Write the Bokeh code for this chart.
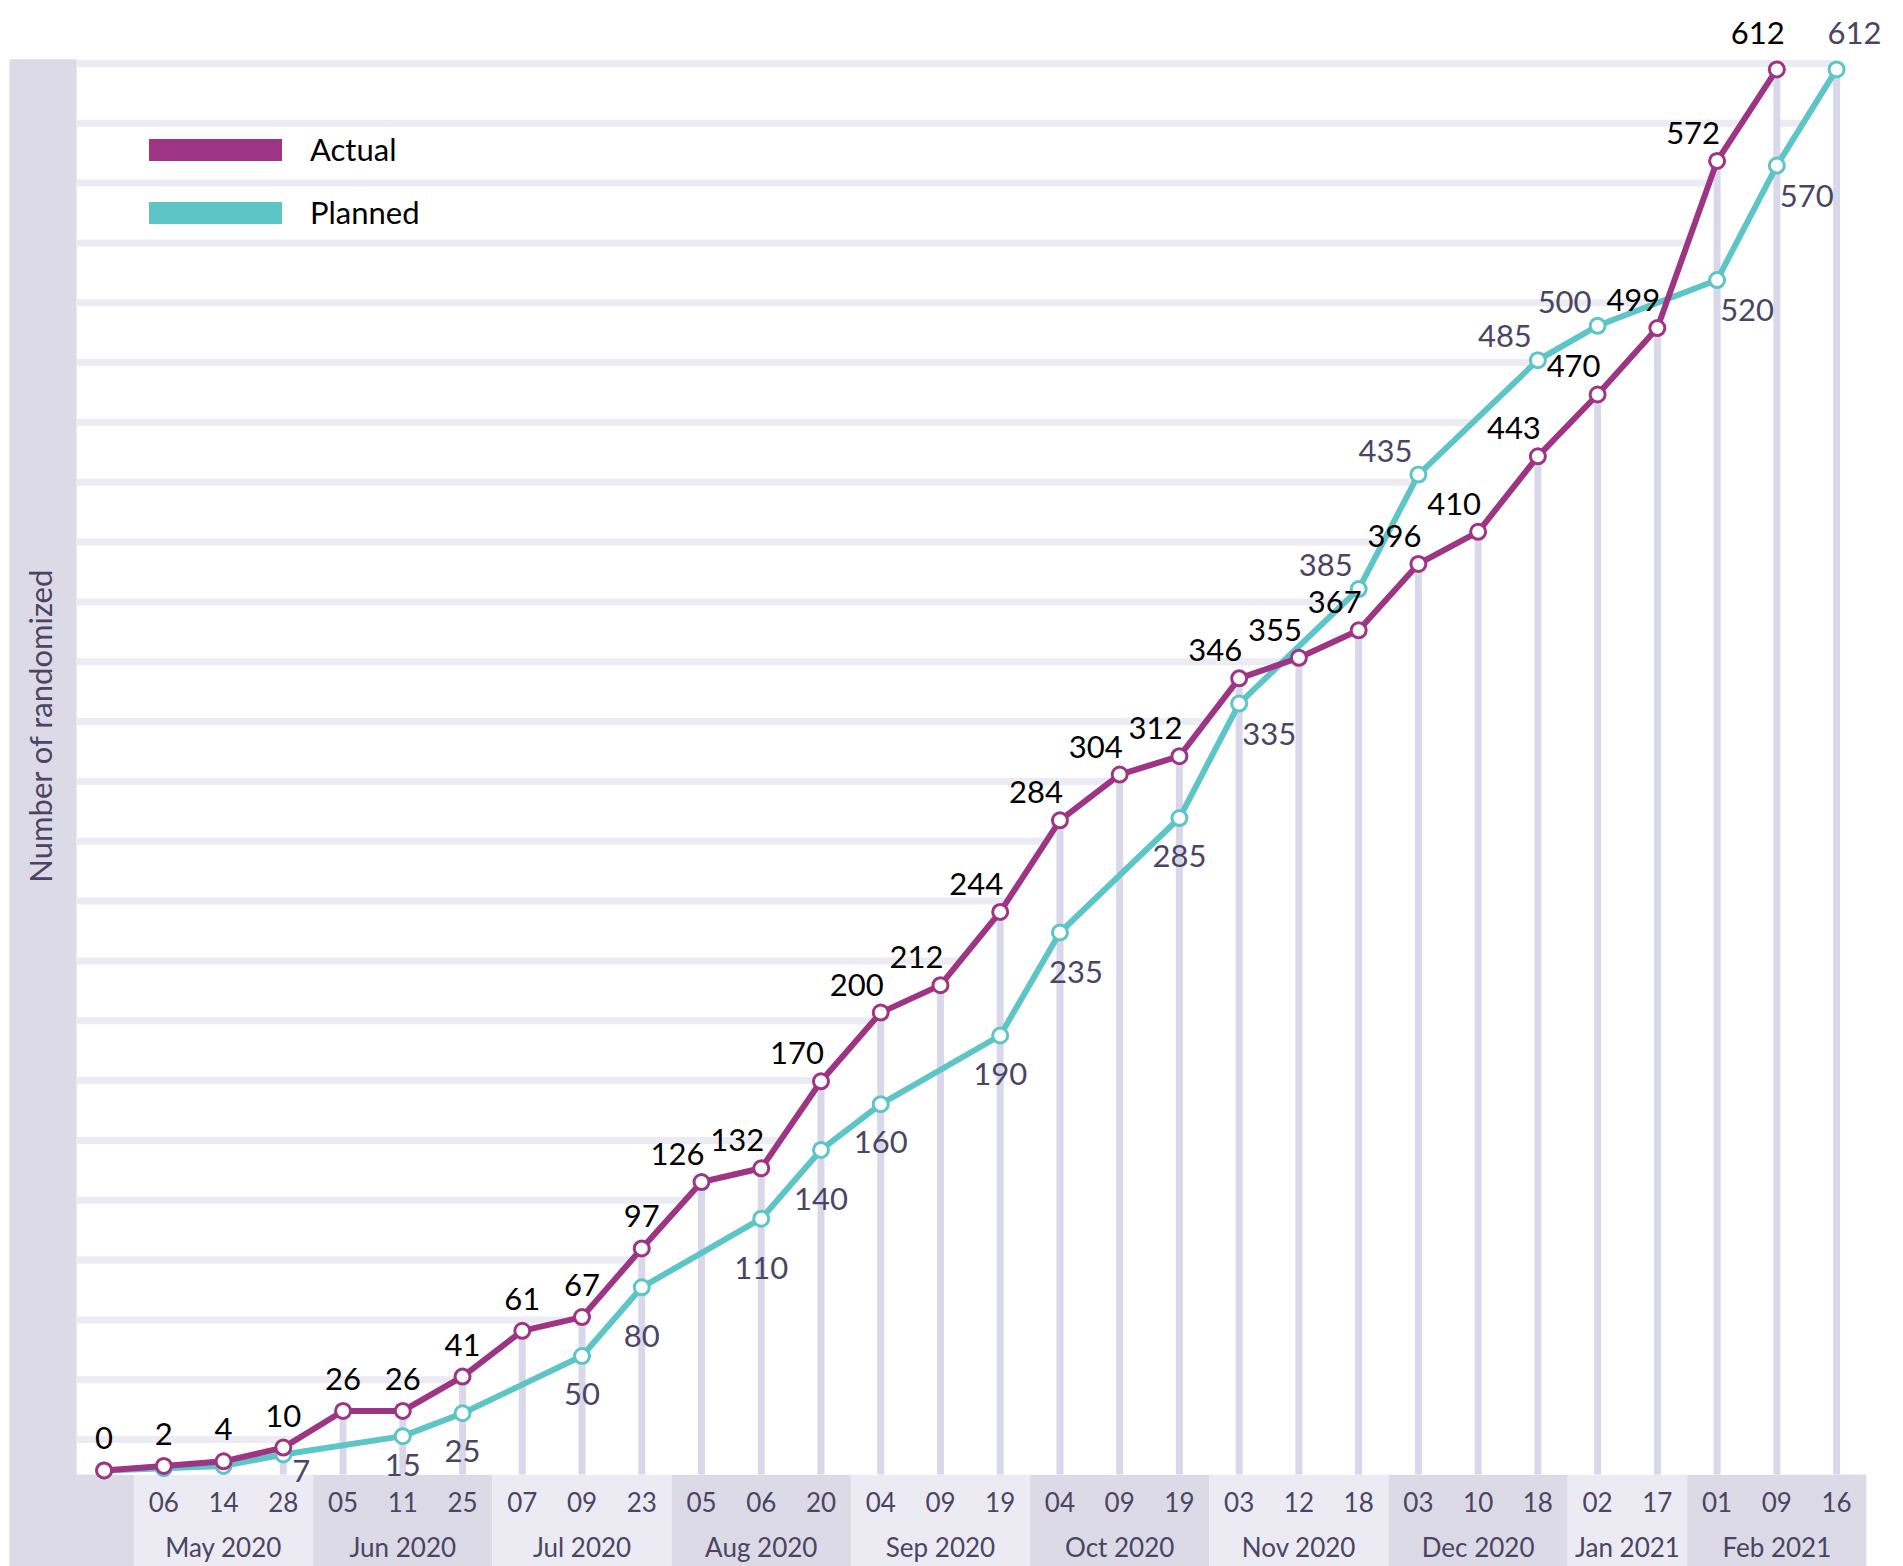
import numpy as np
from bokeh.plotting import figure
from bokeh.models import ColumnDataSource, Legend, LegendItem, Range1d
from bokeh.core.properties import value
from bokeh.embed import file_html
from bokeh.resources import INLINE

# ---------------- data ----------------
months = ["", "May 2020", "May 2020", "May 2020", "Jun 2020", "Jun 2020", "Jun 2020",
          "Jul 2020", "Jul 2020", "Jul 2020", "Aug 2020", "Aug 2020", "Aug 2020",
          "Sep 2020", "Sep 2020", "Sep 2020", "Oct 2020", "Oct 2020", "Oct 2020",
          "Nov 2020", "Nov 2020", "Nov 2020", "Dec 2020", "Dec 2020", "Dec 2020",
          "Jan 2021", "Jan 2021", "Feb 2021", "Feb 2021", "Feb 2021"]
days = ["", "06", "14", "28", "05", "11", "25", "07", "09", "23", "05", "06", "20",
        "04", "09", "19", "04", "09", "19", "03", "12", "18", "03", "10", "18",
        "02", "17", "01", "09", "16"]
actual = [0, 2, 4, 10, 26, 26, 41, 61, 67, 97, 126, 132, 170, 200, 212, 244, 284, 304,
          312, 346, 355, 367, 396, 410, 443, 470, 499, 572, 612, None]
planned = [0, 1, 2, 7, None, 15, 25, None, 50, 80, None, 110, 140, 160, None, 190, 235,
           None, 285, 335, None, 385, 435, None, 485, 500, None, 520, 570, 612]
y_title = "Number of randomized"
series_names = ["Actual", "Planned"]

# label placement (style, kept apart from the data)
actual_label_pos = ["n"] * 10 + ["nw"] * 18 + ["nnw", None]
planned_label_pos = [None, None, None, "ese", None, "s1", "s", None, "s", "S", None, "S", "S",
                     "s", None, "s", "sse", None, "s", "se", None, "NW", "NW", None, "NW",
                     "NW", None, "se", "se", "ne"]
OFF = {"n": (0, -32), "nw": (-24, -28), "nnw": (-19, -36), "NW": (-33, -24),
       "s": (0, 38), "s1": (0, 29), "S": (0, 49), "se": (30, 30), "sse": (16, 40),
       "ese": (18, 17), "ne": (18, -36)}

# ---------------- style / layout ----------------
ACTUAL_C = "#9E3584"
PLANNED_C = "#5EC5C6"
TEXT_GRAY = "#4B4563"
BAR_C = "#D9D7EA"
GRID_C = "#ECEBF3"
BAND_LIGHT = "#ECEBF3"
BAND_DARK = "#DCDAE6"
FONT = "Lato"

W, H = 1900, 1566
X_MIN, X_MAX = -1.734, 30.07
Y_MIN, Y_MAX = -41.94, 642.1
PANEL_TOP = 616.4          # top of the shaded y band
Y_BASE = -1.75             # floor of the plotting area
GRAY_L, GRAY_R = -1.584, -0.46
DAY_Y, MONTH_Y = -13.98, -33.3
TITLE_X, TITLE_Y = -1.07, 325.4
GRID_TOP, GRID_STEP, GRID_N = 614.6, 26.135, 24

n = len(days)
idx = list(range(n))

p = figure(width=W, height=H, output_backend="svg", toolbar_location=None,
           x_range=Range1d(X_MIN, X_MAX), y_range=Range1d(Y_MIN, Y_MAX),
           x_axis_location=None, y_axis_location=None,
           min_border=0, min_border_left=0, min_border_right=0,
           min_border_top=0, min_border_bottom=0)
p.outline_line_color = None
p.grid.visible = False
p.background_fill_color = "white"
p.border_fill_color = "white"

# shaded y band with title
p.quad(left=[GRAY_L], right=[GRAY_R], bottom=[Y_MIN], top=[PANEL_TOP],
       fill_color=BAND_DARK, line_color=None)
p.text(x=[TITLE_X], y=[TITLE_Y], text=[y_title], angle=np.pi / 2, text_align="center",
       text_baseline="middle", text_font=value(FONT), text_font_size="31px",
       text_color=TEXT_GRAY)

# month bands under the plot
groups = []
for i, m in enumerate(months):
    if groups and groups[-1][0] == m:
        groups[-1][2] = i
    else:
        groups.append([m, i, i])
band_src = ColumnDataSource(dict(
    left=[g[1] - 0.5 for g in groups], right=[g[2] + 0.5 for g in groups],
    color=[BAND_DARK if k % 2 == 0 else BAND_LIGHT for k in range(len(groups))],
    mid=[(g[1] + g[2]) / 2 for g in groups], name=[g[0] for g in groups]))
p.quad(left="left", right="right", bottom=Y_MIN, top=Y_BASE, color="color",
       line_color=None, source=band_src)

# horizontal gridlines
gy = [GRID_TOP - k * GRID_STEP for k in range(GRID_N)]
p.segment(x0=[GRAY_R] * GRID_N, x1=[n - 1] * GRID_N, y0=gy, y1=gy,
          line_color=GRID_C, line_width=7)

# white areas beneath the curves
ax_x = [i for i in idx if actual[i] is not None]
ax_y = [actual[i] for i in ax_x]
pl_x = [i for i in idx if planned[i] is not None]
pl_y = [planned[i] for i in pl_x]
p.varea(x=ax_x, y1=Y_BASE, y2=ax_y, fill_color="white")
p.varea(x=pl_x, y1=Y_BASE, y2=pl_y, fill_color="white")

# drop bars
bar_top = [actual[i] if actual[i] is not None else planned[i] for i in idx]
p.segment(x0=idx, x1=idx, y0=[Y_BASE] * n, y1=bar_top, line_color=BAR_C, line_width=7)

# lines + markers
p.line(pl_x, pl_y, line_color=PLANNED_C, line_width=6)
p.scatter(pl_x, pl_y, marker="circle", size=15, fill_color="white",
          line_color=PLANNED_C, line_width=3)
p.line(ax_x, ax_y, line_color=ACTUAL_C, line_width=6)
p.scatter(ax_x, ax_y, marker="circle", size=15, fill_color="white",
          line_color=ACTUAL_C, line_width=3)

# data labels
def label_source(vals, pos):
    xs, ys, ts, dx, dy = [], [], [], [], []
    for i in idx:
        if vals[i] is None or pos[i] is None:
            continue
        ox, oy = OFF[pos[i]]
        xs.append(i); ys.append(vals[i]); ts.append(str(vals[i]))
        dx.append(ox); dy.append(oy)
    return ColumnDataSource(dict(x=xs, y=ys, t=ts, dx=dx, dy=dy))

for vals, pos, col in [(planned, planned_label_pos, TEXT_GRAY),
                       (actual, actual_label_pos, "#000000")]:
    p.text(x="x", y="y", text="t", x_offset="dx", y_offset="dy",
           source=label_source(vals, pos), text_align="center", text_baseline="middle",
           text_font=value(FONT), text_font_size="31px", text_color=col)

# axis texts (days and months)
p.text(x=idx, y=[DAY_Y] * n, text=days, text_align="center", text_baseline="middle",
       text_font=value(FONT), text_font_size="26px", text_color=TEXT_GRAY)
p.text(x="mid", y=MONTH_Y, text="name", source=band_src, text_align="center",
       text_baseline="middle", text_font=value(FONT), text_font_size="26px",
       text_color=TEXT_GRAY)

# legend (swatch renderers sit outside the visible ranges)
ra = p.line(x=[X_MIN - 5, X_MIN - 4], y=[Y_MIN - 50, Y_MIN - 50], line_color=ACTUAL_C,
            line_width=22, line_cap="round")
rp = p.line(x=[X_MIN - 5, X_MIN - 4], y=[Y_MIN - 50, Y_MIN - 50], line_color=PLANNED_C,
            line_width=22, line_cap="round")
legend = Legend(items=[LegendItem(label=series_names[0], renderers=[ra]),
                       LegendItem(label=series_names[1], renderers=[rp])],
                location=(149, H - 136 - 95), orientation="vertical", padding=0,
                margin=0, spacing=25, glyph_width=133, glyph_height=35, label_height=35,
                label_standoff=28, label_text_font=FONT, label_text_font_size="31px",
                label_text_color="#000000", background_fill_alpha=0,
                border_line_color=None)
p.add_layout(legend)

open("out.html", "w").write(file_html(p, INLINE))
